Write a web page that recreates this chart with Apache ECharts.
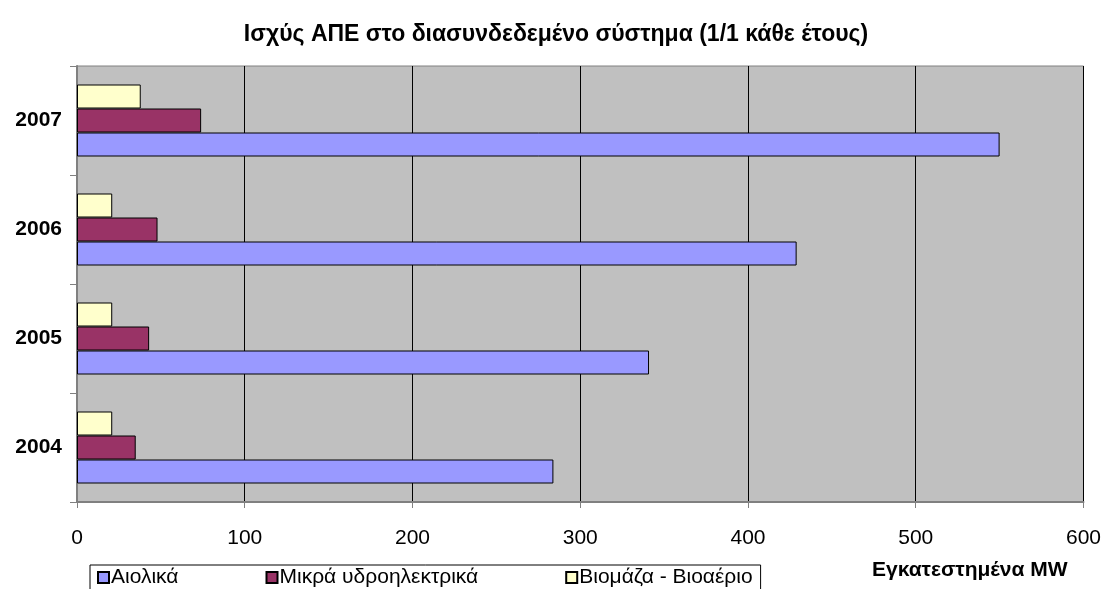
<!DOCTYPE html>
<html>
<head>
<meta charset="utf-8">
<script src="https://cdn.jsdelivr.net/npm/echarts@6/dist/echarts.min.js"></script>
<style>
  html, body { margin: 0; padding: 0; background: #fff; }
  #chart { width: 1104px; height: 589px; }
</style>
</head>
<body>
<div id="chart"></div>
<script>
// data (MW installed, 1/1 of each year)
const years = ['2004', '2005', '2006', '2007'];
const seriesNames = ['Αιολικά', 'Μικρά υδροηλεκτρικά', 'Βιομάζα - Βιοαέριο'];
const wind = [284, 341, 429, 550];
const smallHydro = [35, 43, 48, 74];
const biomass = [21, 21, 21, 38];
const xTicks = [0, 600, 100]; // min, max, interval
const colors = ['#9999FF', '#993366', '#FFFFCC'];

const font = 'Liberation Sans, Arial, sans-serif';
const chart = echarts.init(document.getElementById('chart'), null, { renderer: 'canvas' });

function barSeries(name, data, color) {
  return {
    name: name,
    type: 'bar',
    data: data,
    barWidth: 24,
    barGap: '0%',
    itemStyle: { color: color, borderColor: '#000', borderWidth: 1 },
    emphasis: { disabled: true }
  };
}

const option = {
  animation: false,
  textStyle: { fontFamily: font },
  title: {
    text: 'Ισχύς ΑΠΕ στο διασυνδεδεμένο σύστημα (1/1 κάθε έτους)',
    left: 551,
    textAlign: 'center',
    top: 18,
    textStyle: { fontFamily: font, fontSize: 23, fontWeight: 'bold', color: '#000' }
  },
  legend: {
    left: 90,
    top: 565,
    data: seriesNames, // legend order: wind, hydro, biomass
    icon: 'rect',
    itemWidth: 11,
    itemHeight: 11,
    itemGap: 87,
    borderColor: '#000',
    borderWidth: 1,
    padding: [2, 8, 4, 7],
    textStyle: { fontFamily: font, fontSize: 21, color: '#000', padding: [0, 0, 0, -3] }
  },
  graphic: [{
    type: 'text',
    left: 872,
    top: 560,
    style: { text: 'Εγκατεστημένα MW', font: 'bold 21px ' + font, fill: '#000' }
  }],
  grid: {
    left: 77, right: 19, top: 66, bottom: 87,
    show: true,
    backgroundColor: '#C0C0C0',
    borderColor: '#808080',
    borderWidth: 1
  },
  xAxis: {
    type: 'value',
    min: xTicks[0],
    max: xTicks[1],
    interval: xTicks[2],
    axisLine: { show: true, lineStyle: { color: '#808080', width: 2 } },
    axisTick: { show: true, length: 6, lineStyle: { color: '#808080' } },
    axisLabel: { margin: 26, fontSize: 21, color: '#000', fontFamily: font },
    splitLine: { show: true, lineStyle: { color: '#000', width: 1 } }
  },
  yAxis: {
    type: 'category',
    data: years,
    axisLine: { show: true, lineStyle: { color: '#808080', width: 2 } },
    axisTick: { show: true, length: 7, lineStyle: { color: '#808080' } },
    axisLabel: { margin: 15, fontSize: 21, fontWeight: 'bold', color: '#000', fontFamily: font },
    splitLine: { show: false }
  },
  // first series is drawn at the top of each band, so biomass goes first
  series: [
    barSeries(seriesNames[2], biomass, colors[2]),
    barSeries(seriesNames[1], smallHydro, colors[1]),
    barSeries(seriesNames[0], wind, colors[0])
  ]
};

chart.setOption(option);
</script>
</body>
</html>
